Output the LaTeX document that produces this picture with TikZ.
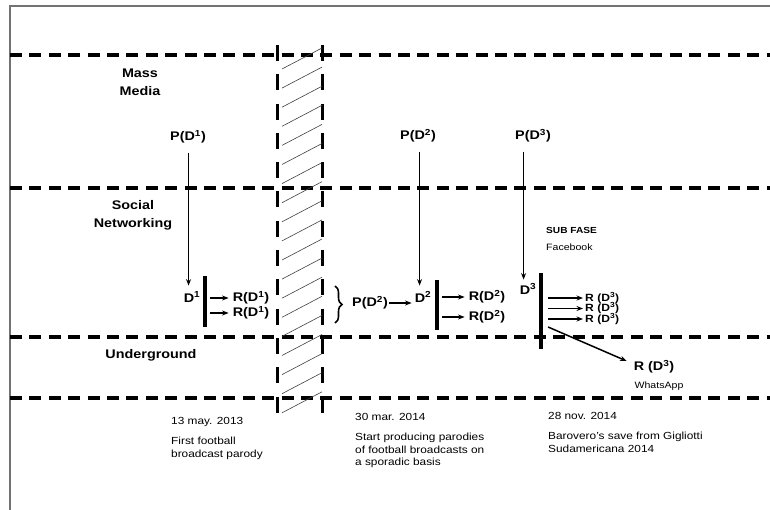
\documentclass[tikz,border=0pt]{standalone}
\usepackage{fontspec}
\setmainfont{Liberation Sans}[FakeStretch=1.15]
\usepackage{tikz}
\usetikzlibrary{arrows.meta,decorations.pathreplacing,calc}

\begin{document}
\begin{tikzpicture}[x=1pt,y=-1pt,
  lane/.style={line width=3.6pt, dash pattern=on 12pt off 7.4pt},
  wall/.style={line width=3pt, dash pattern=on 16pt off 13.3pt},
  hatch/.style={black!75, line width=0.6pt},
  barbox/.style={fill=black, inner sep=0pt, minimum width=3.8pt},
  arr/.style={-{Stealth[length=6.5pt,width=5pt]}, line width=1.5pt},
  lbl/.style={font=\fontsize{12.5}{18}\selectfont\bfseries, align=center, inner sep=0pt},
  small/.style={font=\fontsize{9.2}{11}\selectfont, inner sep=0pt},
  note/.style={font=\fontsize{10.3}{12.5}\selectfont, align=left, inner sep=0pt, anchor=north west}]

\useasboundingbox (0,0) rectangle (770,510);

% --- FRAME ---
\draw[black!55, line width=1.5pt] (10,510) -- (10,6) -- (770,6);

% --- LEVEL LINES ---
\foreach \y in {55,188,337,398} {
    \draw[lane] (10,\y) -- (770,\y);
}

% --- HATCHED WALL ---
\draw[wall] (277,45) -- (277,413);
\draw[wall] (322,45) -- (322,413);
\foreach \i in {0,...,18} {
    \draw[hatch] (282,69+19.1*\i) -- (322,48+19.1*\i);
}

% --- LEVEL NAMES ---
\node[lbl] (mass) at (140,82) {Mass\\Media};
\node[lbl] (social) at (133,215) {Social\\Networking};
\node[lbl] (under) at (151,355) {Underground};

% --- DOCUMENT 1 ---
\node[lbl] (pd1) at (188,137) {P(D\textsuperscript{1})};
\node[lbl] (d1) at (192,297) {D\textsuperscript{1}};
\coordinate (d1top) at ($(d1.north west)+(5,0)$);
\draw[arr, shorten <=9pt, shorten >=6pt] (d1top |- pd1.south) -- (d1top);
\node[barbox, minimum height=51pt] (bar1) at (205,301.5) {};
\node[lbl] (r11) at (251,298) {R(D\textsuperscript{1})};
\node[lbl] (r12) at (251,313) {R(D\textsuperscript{1})};
\draw[arr, shorten <=3pt, shorten >=4pt] (bar1.east |- r11.west) -- (r11.west);
\draw[arr, shorten <=3pt, shorten >=4pt] (bar1.east |- r12.west) -- (r12.west);

% --- DOCUMENT 2 ---
\draw[decorate, decoration={brace, amplitude=7pt}, line width=1.6pt] (335,286) -- (335,323);
\node[lbl] (pd2m) at (370,303) {P(D\textsuperscript{2})};
\node[lbl] (pd2) at (418,136) {P(D\textsuperscript{2})};
\node[lbl] (d2) at (423,297) {D\textsuperscript{2}};
\coordinate (d2top) at ($(d2.north west)+(5,0)$);
\draw[arr, shorten <=9pt, shorten >=6pt] (d2top |- pd2.south) -- (d2top);
\draw[arr, shorten <=1pt, shorten >=3pt] (pd2m.east) -- (pd2m.east -| d2.west);
\node[barbox, minimum height=50pt] (bar2) at (437,305) {};
\node[lbl] (r21) at (487,297) {R(D\textsuperscript{2})};
\node[lbl] (r22) at (487,317) {R(D\textsuperscript{2})};
\draw[arr, shorten <=3pt, shorten >=4pt] (bar2.east |- r21.west) -- (r21.west);
\draw[arr, shorten <=3pt, shorten >=4pt] (bar2.east |- r22.west) -- (r22.west);

% --- DOCUMENT 3 ---
\node[lbl] (pd3) at (533,136) {P(D\textsuperscript{3})};
\node[lbl] (d3) at (528,289) {D\textsuperscript{3}};
\coordinate (d3top) at ($(d3.north west)+(4,0)$);
\draw[arr, shorten <=9pt, shorten >=4pt] (d3top |- pd3.south) -- (d3top);
\node[barbox, minimum height=76pt] (bar3) at (541,311) {};
\foreach \n/\y in {1/298,2/308.5,3/319} {
    \node[lbl, font=\fontsize{10.5}{11}\selectfont\bfseries, anchor=west] (r3\n) at (585,\y) {R (D\textsuperscript{3})};
    \draw[arr, shorten <=5pt, shorten >=2pt] (bar3.east |- r3\n.west) -- (r3\n.west);
}
\node[lbl] (rw) at (654,367) {R (D\textsuperscript{3})};
\draw[arr] ($(bar3.east)+(5,16)$) -- ($(rw.west)+(-7,-6)$);
\node[small] (wapp) at (659,386) {WhatsApp};
\node[font=\fontsize{8.8}{10}\selectfont\bfseries, inner sep=0pt, anchor=west] (subfase) at (546,230) {SUB FASE};
\node[small, anchor=west] (fb) at (546,247) {Facebook};

% --- DATES ---
\node[note, anchor=west] (date1) at (171,422) {13 may. 2013};
\node[note] (text1) at (171,437) {First football\\broadcast parody};
\node[note, anchor=west] (date2) at (355,417) {30 mar. 2014};
\node[note] (text2) at (355,433) {Start producing parodies\\of football broadcasts on\\a sporadic basis};
\node[note, anchor=west] (date3) at (548,416) {28 nov. 2014};
\node[note] (text3) at (548,432) {Barovero's save from Gigliotti\\Sudamericana 2014};

\end{tikzpicture}
\end{document}
